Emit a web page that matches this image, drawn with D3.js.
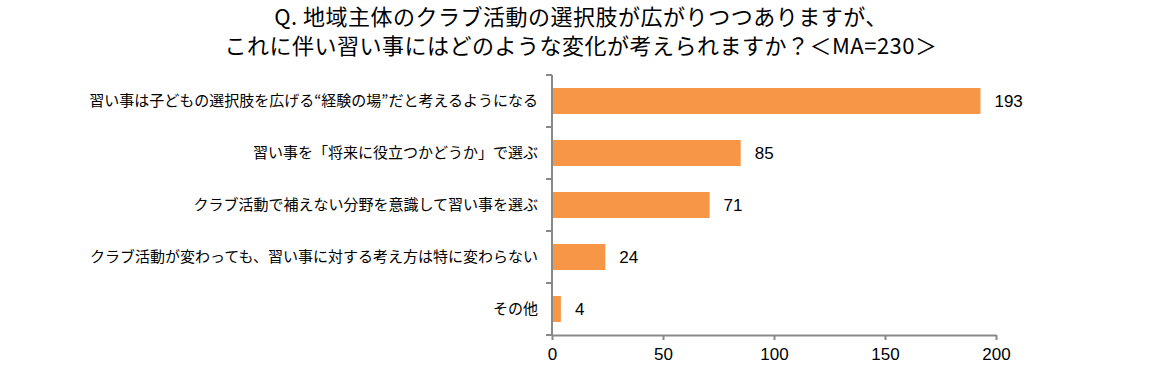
<!DOCTYPE html>
<html>
<head>
<meta charset="utf-8">
<script src="https://cdn.jsdelivr.net/npm/d3@7"></script>
<style>
  body { margin: 0; background: #fff; }
  text { font-family: "Noto Sans CJK JP", "Liberation Sans", sans-serif; fill: #000; }
  .num { font-family: "Liberation Sans", Arial, sans-serif; }
</style>
</head>
<body>
<svg id="chart" width="1162" height="385"></svg>
<script>
var titleLines = ["Q. 地域主体のクラブ活動の選択肢が広がりつつありますが、",
                  "これに伴い習い事にはどのような変化が考えられますか？＜MA=230＞"];
var categories = ["習い事は子どもの選択肢を広げる“経験の場”だと考えるようになる",
                  "習い事を「将来に役立つかどうか」で選ぶ",
                  "クラブ活動で補えない分野を意識して習い事を選ぶ",
                  "クラブ活動が変わっても、習い事に対する考え方は特に変わらない",
                  "その他"];
var values = [193, 85, 71, 24, 4];
var xTicks = [0, 50, 100, 150, 200];

var svg = d3.select("#chart");
var plotLeft = 552, plotRight = 996, plotTop = 75, plotBottom = 335;
var axisColor = "#898989";

// title
svg.selectAll("text.title")
    .data(titleLines)
    .enter().append("text")
    .attr("class", "title")
    .attr("x", 581)
    .attr("y", function(d, i){ return 25 + i * 29; })
    .attr("text-anchor", "middle")
    .style("font-size", "22px")
    .style("letter-spacing", "0.5px")
    .text(function(d){ return d; });

var x = d3.scaleLinear().domain([0, 200]).range([plotLeft, plotRight]);
var y = d3.scaleBand().domain(categories).range([plotTop, plotBottom])
    .paddingInner(0.5).paddingOuter(0.25);

// bars
svg.selectAll("rect.bar")
    .data(values)
    .enter().append("rect")
    .attr("class", "bar")
    .attr("x", x(0))
    .attr("y", function(d, i){ return y(categories[i]); })
    .attr("width", function(d){ return x(d) - x(0); })
    .attr("height", y.bandwidth())
    .attr("fill", "#F79646");

// value labels
svg.selectAll("text.val")
    .data(values)
    .enter().append("text")
    .attr("class", "val num")
    .attr("x", function(d){ return x(d) + 14; })
    .attr("y", function(d, i){ return y(categories[i]) + y.bandwidth() / 2; })
    .attr("dy", "0.36em")
    .style("font-size", "17px")
    .text(function(d){ return d; });

// category labels
svg.selectAll("text.cat")
    .data(categories)
    .enter().append("text")
    .attr("class", "cat")
    .attr("x", 538)
    .attr("y", function(d){ return y(d) + y.bandwidth() / 2; })
    .attr("dy", "0.36em")
    .attr("text-anchor", "end")
    .style("font-size", "15px")
    .text(function(d){ return d; });

// y axis line + ticks at band boundaries
var step = y.step();
var bounds = d3.range(categories.length + 1).map(function(i){ return plotTop + i * step; });
svg.append("line")
    .attr("x1", plotLeft).attr("x2", plotLeft)
    .attr("y1", plotTop).attr("y2", plotBottom)
    .attr("stroke", axisColor).attr("stroke-width", 2);
svg.selectAll("line.ytick")
    .data(bounds)
    .enter().append("line")
    .attr("class", "ytick")
    .attr("x1", plotLeft - 6).attr("x2", plotLeft)
    .attr("y1", function(d){ return d; }).attr("y2", function(d){ return d; })
    .attr("stroke", axisColor).attr("stroke-width", 2);

// x axis
var xAxis = svg.append("g")
    .attr("transform", "translate(0," + plotBottom + ")")
    .call(d3.axisBottom(x).tickValues(xTicks).tickSize(5).tickPadding(8).tickSizeOuter(0));
xAxis.select(".domain").attr("stroke", axisColor).attr("stroke-width", 2);
xAxis.selectAll(".tick line").attr("stroke", axisColor).attr("stroke-width", 2);
xAxis.selectAll(".tick text")
    .style("font-size", "17px")
    .style("font-family", "'Liberation Sans', Arial, sans-serif")
    .attr("fill", "#000");
</script>
</body>
</html>
